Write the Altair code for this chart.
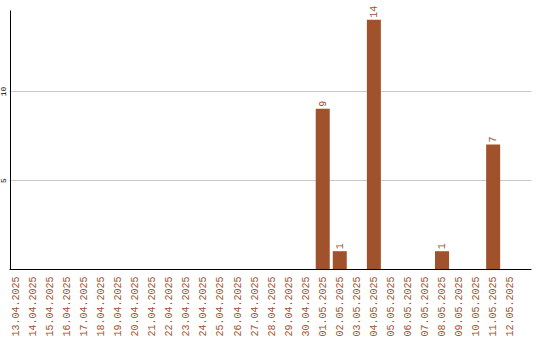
import altair as alt
import pandas as pd

# Daily counts, 13.04.2025 – 12.05.2025
dates = [
    "13.04.2025", "14.04.2025", "15.04.2025", "16.04.2025", "17.04.2025",
    "18.04.2025", "19.04.2025", "20.04.2025", "21.04.2025", "22.04.2025",
    "23.04.2025", "24.04.2025", "25.04.2025", "26.04.2025", "27.04.2025",
    "28.04.2025", "29.04.2025", "30.04.2025", "01.05.2025", "02.05.2025",
    "03.05.2025", "04.05.2025", "05.05.2025", "06.05.2025", "07.05.2025",
    "08.05.2025", "09.05.2025", "10.05.2025", "11.05.2025", "12.05.2025",
]
counts = [0, 0, 0, 0, 0, 0, 0, 0, 0, 0,
          0, 0, 0, 0, 0, 0, 0, 0, 9, 1,
          0, 14, 0, 0, 0, 1, 0, 0, 7, 0]
y_ticks = [5, 10]

df = pd.DataFrame({"date": dates, "count": counts})

BAR = "#A0522D"
MONO = "Liberation Mono"

x_enc = alt.X(
    "date:N",
    sort=dates,
    title=None,
    scale=alt.Scale(paddingInner=0.178, paddingOuter=0.405, align=0),
    axis=alt.Axis(
        labelAngle=-90,
        labelColor=BAR,
        labelFont=MONO,
        labelFontSize=10,
        labelPadding=7,
        ticks=False,
        domainColor="#000000",
        domainWidth=1,
        grid=False,
        labelOverlap=False,
    ),
)
y_enc = alt.Y(
    "count:Q",
    title=None,
    scale=alt.Scale(domain=[0, 14.55], nice=False, zero=True),
    axis=alt.Axis(
        values=y_ticks,
        labelAngle=-90,
        labelColor="#000000",
        labelFont=MONO,
        labelFontSize=8,
        labelPadding=3,
        ticks=False,
        offset=-1,
        domainColor="#000000",
        domainWidth=1,
        grid=True,
        gridColor="#c8c8c8",
        gridWidth=1,
    ),
)

bars = alt.Chart(df).mark_bar(color=BAR).encode(x=x_enc, y=y_enc)

labels = (
    alt.Chart(df)
    .transform_filter("datum.count > 0")
    .mark_text(
        angle=270,
        align="left",
        baseline="middle",
        dx=2,
        color=BAR,
        font=MONO,
        fontSize=10,
    )
    .encode(x=alt.X("date:N", sort=dates), y=alt.Y("count:Q"), text="count:Q")
)

chart = (
    alt.layer(bars, labels)
    .properties(
        width=522,
        height=259,
        autosize=alt.AutoSizeParams(type="none"),
        padding={"left": 9, "top": 10, "right": 9, "bottom": 71},
        background="#ffffff",
    )
    .configure_view(stroke=None)
)

chart.save("out.html", embed_options={"renderer": "svg", "actions": False})
